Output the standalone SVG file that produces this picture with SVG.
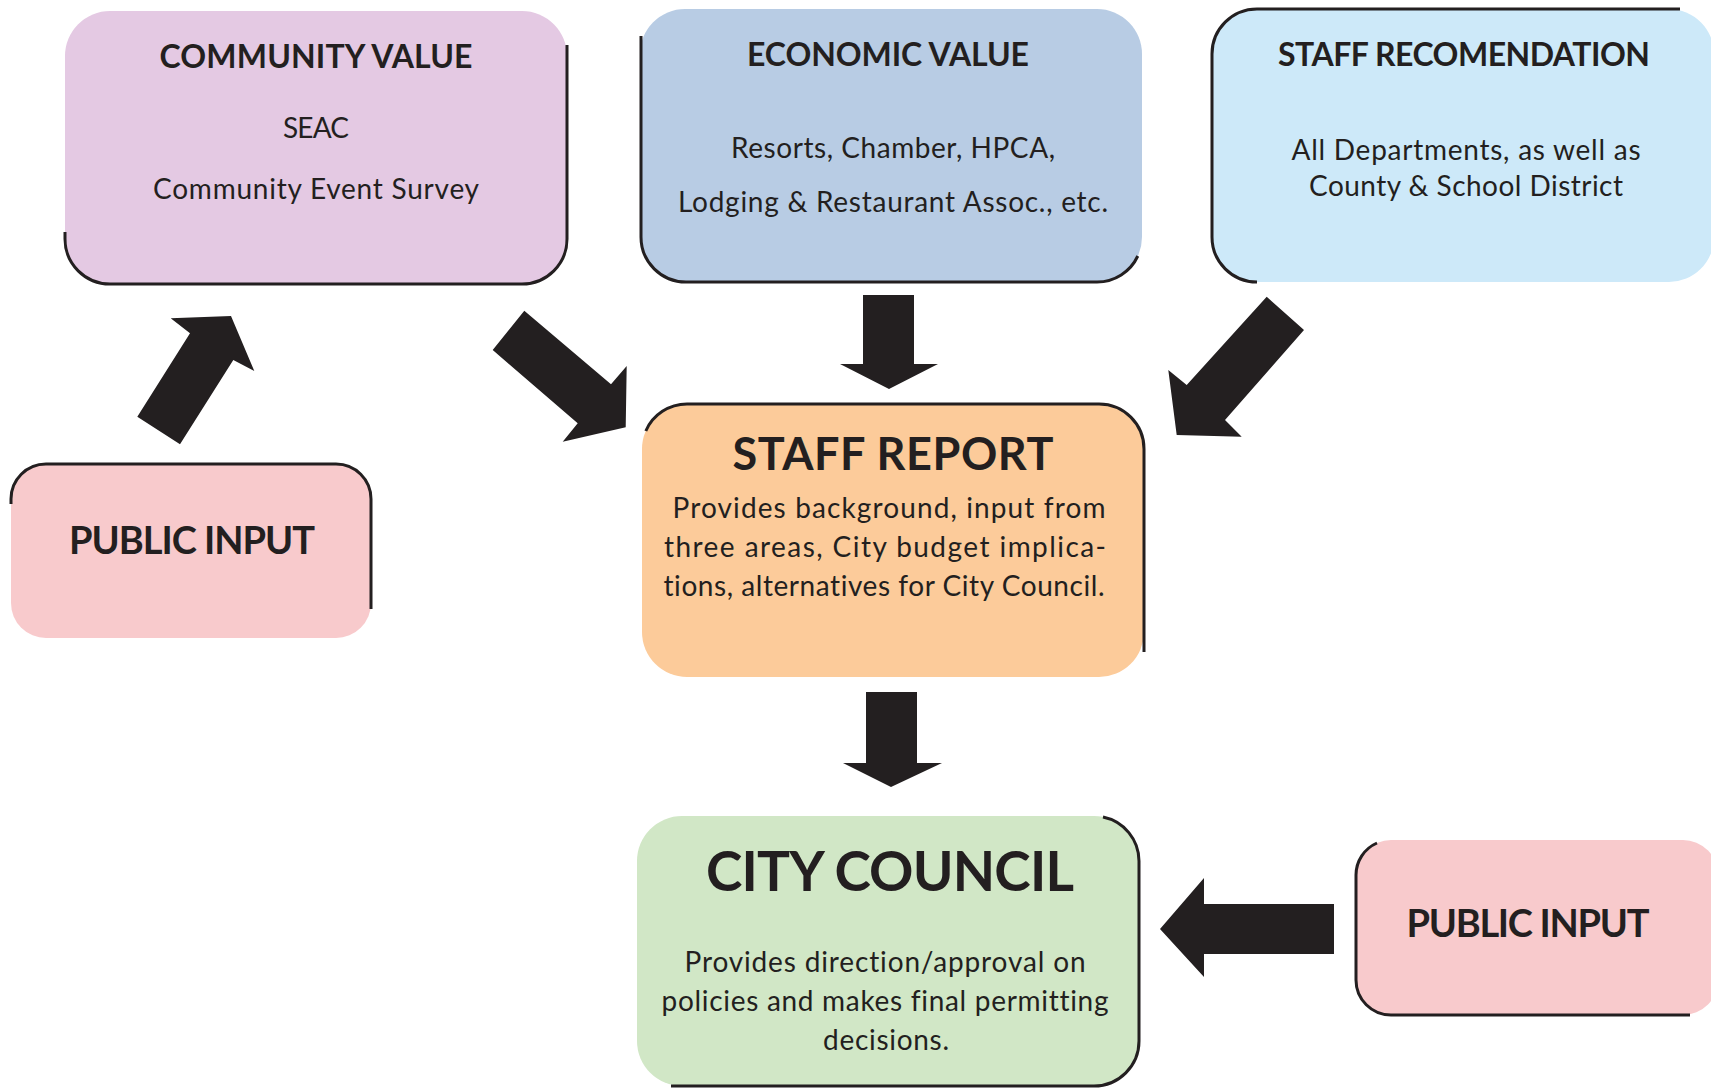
<svg xmlns="http://www.w3.org/2000/svg" width="1711" height="1088" viewBox="0 0 1711 1088">
<style>
.edge{fill:none;stroke:#231f20;stroke-width:3;stroke-linecap:butt}
.t{font-family:Lato,"Open Sans","Liberation Sans",sans-serif;fill:#231f20;text-anchor:middle;font-variant-ligatures:none;font-feature-settings:"liga" 0,"clig" 0}
.h{font-weight:bold;font-size:32px}
.b{font-size:28px}
.arrow{fill:#231f20}
</style>
<rect width="1711" height="1088" fill="#ffffff"/>
<g id="community-value">
<rect x="65" y="11" width="502" height="273" rx="45" fill="#e4c9e3"/>
<path class="edge" d="M 567 45 L 567 239 A 45 45 0 0 1 522 284 L 110 284 A 45 45 0 0 1 65 239 L 65 232"/>
<text class="t h" x="316" y="68" textLength="313">COMMUNITY VALUE</text>
<text class="t b" x="316" y="138" textLength="66">SEAC</text>
<text class="t b" x="316" y="199" textLength="326">Community Event Survey</text>
</g>
<g id="economic-value">
<rect x="640" y="9" width="502" height="273" rx="45" fill="#b8cce4"/>
<path class="edge" d="M 641 36 L 641 237 A 45 45 0 0 0 686 282 L 1097 282 A 45 45 0 0 0 1137.8 256"/>
<text class="t h" x="888" y="66" textLength="282">ECONOMIC VALUE</text>
<text class="t b" x="893" y="158" textLength="324">Resorts, Chamber, HPCA,</text>
<text class="t b" x="893" y="212" textLength="430">Lodging &amp; Restaurant Assoc., etc.</text>
</g>
<g id="staff-recommendation">
<rect x="1212" y="9" width="502" height="273" rx="45" fill="#cde9f9"/>
<path class="edge" d="M 1680 9 L 1257 9 A 45 45 0 0 0 1212 54 L 1212 237 A 45 45 0 0 0 1257 282"/>
<text class="t h" x="1464" y="66" textLength="372">STAFF RECOMENDATION</text>
<text class="t b" x="1466" y="160" textLength="349">All Departments, as well as</text>
<text class="t b" x="1466" y="196" textLength="314">County &amp; School District</text>
</g>
<g id="staff-report">
<rect x="642" y="404" width="502" height="273" rx="45" fill="#fccb9a"/>
<path class="edge" d="M 645.8 431 A 45 45 0 0 1 687 404 L 1099 404 A 45 45 0 0 1 1144 449 L 1144 652"/>
<text class="t" x="893" y="470" font-weight="bold" font-size="45" textLength="321">STAFF REPORT</text>
<text class="t b" x="889" y="518" textLength="433">Provides background, input from</text>
<text class="t b" x="885" y="557" textLength="442">three areas, City budget implica-</text>
<text class="t b" x="884" y="596" textLength="441">tions, alternatives for City Council.</text>
</g>
<g id="city-council">
<rect x="637" y="816" width="502" height="270" rx="45" fill="#d1e7c6"/>
<path class="edge" d="M 1103 817 A 45 45 0 0 1 1139 861 L 1139 1041 A 45 45 0 0 1 1094 1086 L 671 1086"/>
<text class="t" x="890" y="891" font-weight="bold" font-size="55" textLength="368">CITY COUNCIL</text>
<text class="t b" x="885" y="972" textLength="401">Provides direction/approval on</text>
<text class="t b" x="885" y="1011" textLength="447">policies and makes final permitting</text>
<text class="t b" x="886" y="1050" textLength="126">decisions.</text>
</g>
<g id="public-input-left">
<rect x="11" y="464" width="360" height="174" rx="35" fill="#f8cacc"/>
<path class="edge" d="M 11 504 L 11 499 A 35 35 0 0 1 46 464 L 336 464 A 35 35 0 0 1 371 499 L 371 609"/>
<text class="t" x="192" y="554" font-weight="bold" font-size="38" textLength="246">PUBLIC INPUT</text>
</g>
<g id="public-input-right">
<rect x="1356" y="840" width="362" height="175" rx="35" fill="#f8cacc"/>
<path class="edge" d="M 1377 843 A 35 35 0 0 0 1356 875 L 1356 980 A 35 35 0 0 0 1391 1015 L 1690 1015"/>
<text class="t" x="1528" y="937" font-weight="bold" font-size="38" textLength="243">PUBLIC INPUT</text>
</g>
<g id="connectors">
<polygon class="arrow" points="170.7,318.3 231,316 254.3,371 233.3,360 180,444.3 137.3,416.7 190,333.3"/>
<polygon class="arrow" points="524.3,310.7 611,384.3 626.7,366 625.7,427.3 562.7,441.7 577.7,423.3 492.7,350"/>
<polygon class="arrow" points="1266.7,296.7 1304,330 1225,420 1241.7,436.7 1176.7,435 1168.3,370 1186.7,385"/>
<polygon class="arrow" points="863,295 914,295 914,364 938,364 889,389 840,364 863,364"/>
<polygon class="arrow" points="866,692 917,692 917,763 942,763 891,787 843,763 866,763"/>
<polygon class="arrow" points="1334,904 1334,954 1204,954 1204,977 1160,929 1204,878 1204,904"/>
</g>
</svg>
